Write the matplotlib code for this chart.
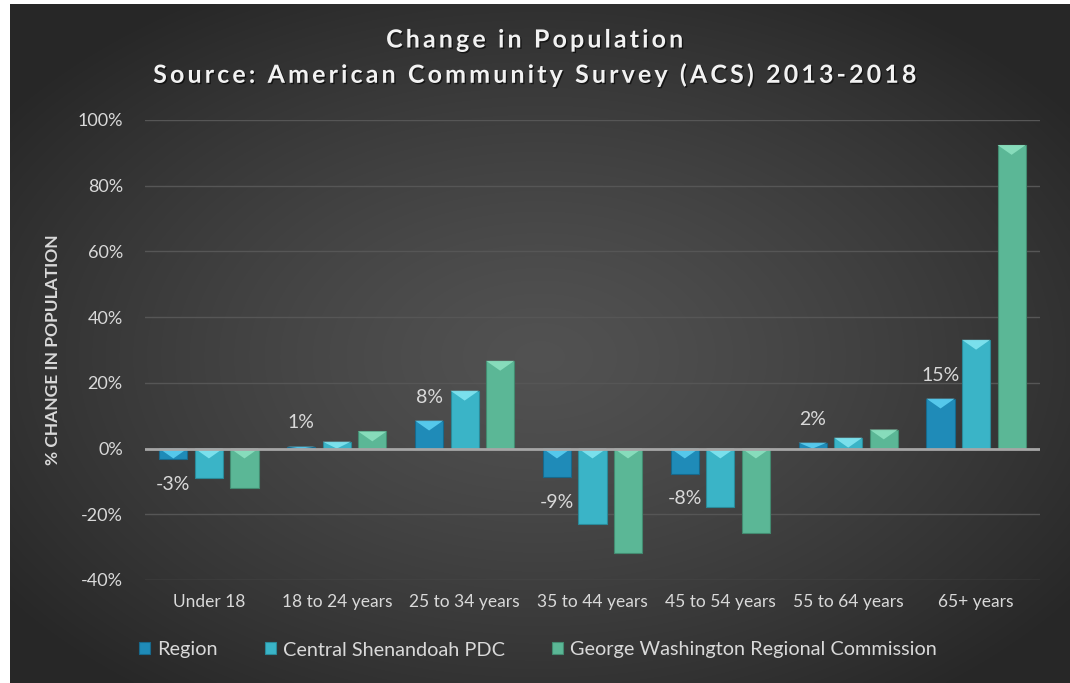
#!/usr/bin/env python3
import numpy as np
import matplotlib
matplotlib.use("Agg")
import matplotlib.pyplot as plt
from matplotlib.patches import Polygon
import matplotlib.patheffects as pe

categories = ["Under 18", "18 to 24 years", "25 to 34 years", "35 to 44 years",
              "45 to 54 years", "55 to 64 years", "65+ years"]
region = [-3.3, 0.6, 8.5, -8.8, -7.6, 1.8, 15.2]
central_shen = [-9.1, 2.1, 17.6, -23.1, -17.9, 3.3, 33.1]
gw_regional = [-11.9, 5.2, 26.7, -31.9, -25.8, 5.8, 92.4]
region_labels = ["-3%", "1%", "8%", "-9%", "-8%", "2%", "15%"]
series_names = ["Region", "Central Shenandoah PDC", "George Washington Regional Commission"]
yticks = [-40, -20, 0, 20, 40, 60, 80, 100]
title_lines = ["Change in Population", "Source: American Community Survey (ACS) 2013-2018"]

colors = ["#1f8bb8", "#3ab4c7", "#5bb796"]
tops = ["#5fd3f5", "#86e8f3", "#8fe3c2"]
edges = ["#17698c", "#2a8a99", "#438a70"]

txt = "#d9d9d9"
font = ["Lato", "DejaVu Sans"]

fig = plt.figure(figsize=(10.7, 6.83), dpi=100, facecolor="white")

# radial gradient background
bg = fig.add_axes([10 / 1070, 0, 1 - 10 / 1070, 1 - 4 / 683])
bg.set_axis_off()
yy, xx = np.mgrid[0:1:400j, 0:1:600j]
r = np.sqrt(((xx - 0.5) / 0.62) ** 2 + ((yy - 0.52) / 0.62) ** 2)
r = np.clip(r, 0, 1)
shade = 0.32 - 0.165 * r ** 1.3
bg.imshow(np.dstack([shade, shade, shade]), aspect="auto", extent=[0, 1, 0, 1],
          interpolation="bilinear")

ax = fig.add_axes([145 / 1070, 1 - 580 / 683, 895 / 1070, 460 / 683])
ax.patch.set_alpha(0)
for s in ax.spines.values():
    s.set_visible(False)

x = np.arange(len(categories))
w = 0.22
step = 0.278
all_series = [region, central_shen, gw_regional]
d = 3.0  # bevel depth in data units

for i, vals in enumerate(all_series):
    bars = ax.bar(x + (i - 1) * step, vals, width=w, color=colors[i],
                  edgecolor=edges[i], linewidth=0.8, label=series_names[i], zorder=3)
    for b in bars:
        x0 = b.get_x()
        x1 = x0 + b.get_width()
        y0 = b.get_y()
        y1 = y0 + b.get_height()
        top, bot = max(y0, y1), min(y0, y1)
        apex = max(top - d, bot)
        ax.add_patch(Polygon([(x0, top), (x1, top), ((x0 + x1) / 2, apex)],
                             closed=True, facecolor=tops[i], edgecolor="none",
                             alpha=0.85, zorder=4))

for xi, v, lab in zip(x - step, region, region_labels):
    off = 17 if v >= 0 else -18
    ax.annotate(lab, (xi, v), xytext=(0, off), textcoords="offset points",
                ha="center", va="center", color=txt, fontsize=14, family=font)

ax.set_ylim(-40, 100)
ax.set_xlim(-0.5, 6.5)
ax.set_yticks(yticks)
ax.set_yticklabels([f"{t}%" for t in yticks])
ax.yaxis.grid(True, color="#565656", linewidth=1, zorder=0)
ax.axhline(0, color="#a6a6a6", linewidth=2, zorder=5)
ax.set_xticks(x)
ax.set_xticklabels(categories)
ax.tick_params(axis="both", length=0, colors=txt, labelsize=12.5)
ax.tick_params(axis="y", pad=16, labelsize=13)
ax.tick_params(axis="x", pad=10)
for t in ax.get_xticklabels() + ax.get_yticklabels():
    t.set_family(font)

ax.set_ylabel("% CHANGE IN POPULATION", color=txt, fontsize=12.5,
              fontweight="bold", family=font, labelpad=12)

# spaced-out title letters, like the original
shadow = [pe.withSimplePatchShadow(offset=(1, -1), shadow_rgbFace="black", alpha=0.6)]
for k, line in enumerate(title_lines):
    spaced = "\u2009".join(line)
    fig.text(0.5, 1 - (40 + 35 * k) / 683, spaced, ha="center", va="center",
             color="#f2f2f2", fontsize=18, fontweight="bold", family=font,
             path_effects=shadow)

leg = fig.legend(loc="center", bbox_to_anchor=(538 / 1070, 1 - 650 / 683), ncol=3,
                 frameon=False, handlelength=0.55, handleheight=0.55,
                 handletextpad=0.35, columnspacing=2.4,
                 prop={"family": font, "size": 14.3})
for t in leg.get_texts():
    t.set_color(txt)

fig.savefig("out.png", dpi=100, facecolor=fig.get_facecolor())
